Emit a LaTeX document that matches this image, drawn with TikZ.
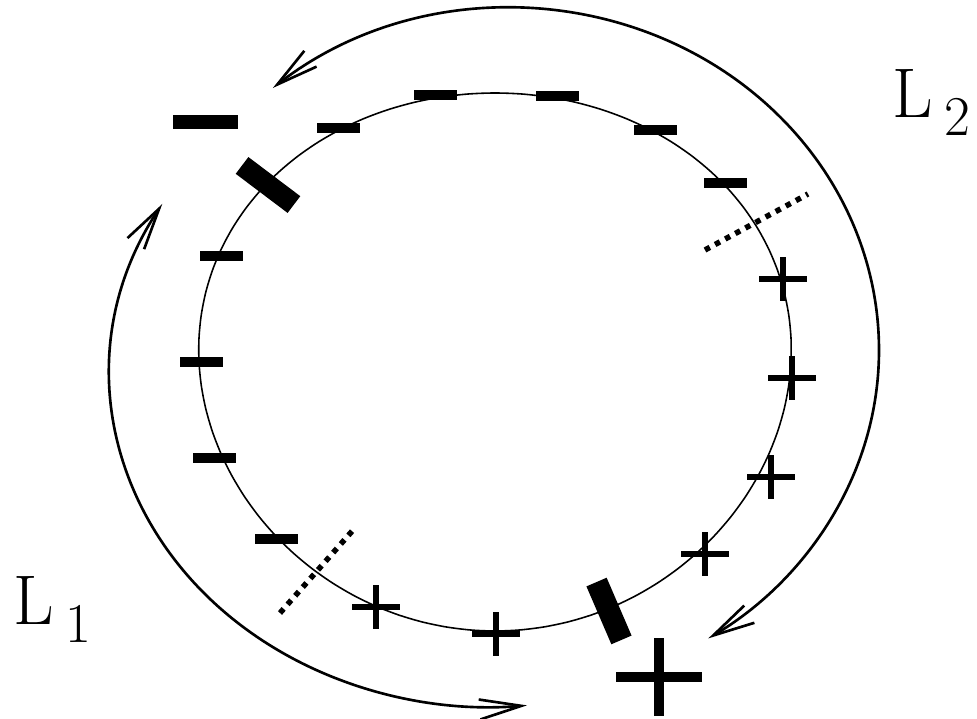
\documentclass[tikz,border=0pt]{standalone}
\usetikzlibrary{arrows.meta}

\tikzset{
  negsign/.style={fill,inner sep=0pt,minimum width=4.3mm,minimum height=1mm},
  negbig/.style={negsign,minimum width=6.5mm,minimum height=1.4mm},
  wallbar/.style={fill,inner sep=0pt,minimum width=6.5mm,minimum height=2.1mm},
  possign/.pic={\draw[line width=0.55mm] (-2.4mm,0) -- (2.4mm,0) (0,-2.2mm) -- (0,2.2mm);},
  posbig/.pic={\draw[line width=1mm] (-4.3mm,0) -- (4.3mm,0) (0,-3.9mm) -- (0,3.9mm);},
  looparrow/.style={line width=0.75pt,{Straight Barb[length=4.2mm,width=2mm]}-{Straight Barb[length=4.2mm,width=2mm]}},
  cutline/.style={line width=0.55mm,dash pattern=on 0.55mm off 0.6mm},
  lname/.style={inner sep=0pt,anchor=base west,font=\fontsize{20}{20}\selectfont},
}
\newcommand{\lsub}[1]{\kern3.2pt\raisebox{-5pt}{\fontsize{16}{16}\selectfont #1}}

\begin{document}
\begin{tikzpicture}[x=0.1mm,y=-0.1mm]
\useasboundingbox (0,0) rectangle (977,719);

% ring (a little wider at the top)
\draw[line width=0.45pt] plot[domain=0:360,samples=73,smooth]
  ({495+296*cos(\x)*(1-0.045*sin(\x))},{362+269*sin(\x)});

% negative side
\node[negsign] (n1) at (338,128) {};
\node[negsign] (n2) at (435,95) {};
\node[negsign] (n3) at (557,96) {};
\node[negsign] (n4) at (655,130) {};
\node[negsign] (n5) at (725,183) {};
\node[negsign] (n6) at (221,256) {};
\node[negsign] (n7) at (201,362) {};
\node[negsign] (n8) at (214,458) {};
\node[negsign] (n9) at (276,539) {};
\node[negbig] (nb) at (205,122) {};

% positive side
\pic at (783,279) {possign};
\pic at (792,378) {possign};
\pic at (771,477) {possign};
\pic at (705,554) {possign};
\pic at (496,634) {possign};
\pic at (376,607) {possign};
\pic at (659,677) {posbig};

% walls
\node[wallbar,rotate=-37] (w1) at (268,185) {};
\node[wallbar,rotate=-66.7,minimum width=6.3mm,minimum height=2.2mm] (w2) at (609,611) {};

% boundaries
\draw[cutline] (705,250) -- (808,194);
\draw[cutline] (280,613) -- (354,529);

% loops
\draw[looparrow] (510,350) ++(-130:369 and 342) arc[start angle=-130,end angle=57.5,x radius=369,y radius=342];
\draw[looparrow] (490,373) ++(210.4:380 and 334) arc[start angle=210.4,end angle=84.4,x radius=380,y radius=334];

\node[lname] (l1) at (13,625) {L\lsub{1}};
\node[lname] (l2) at (892,118) {L\lsub{2}};
\end{tikzpicture}
\end{document}
